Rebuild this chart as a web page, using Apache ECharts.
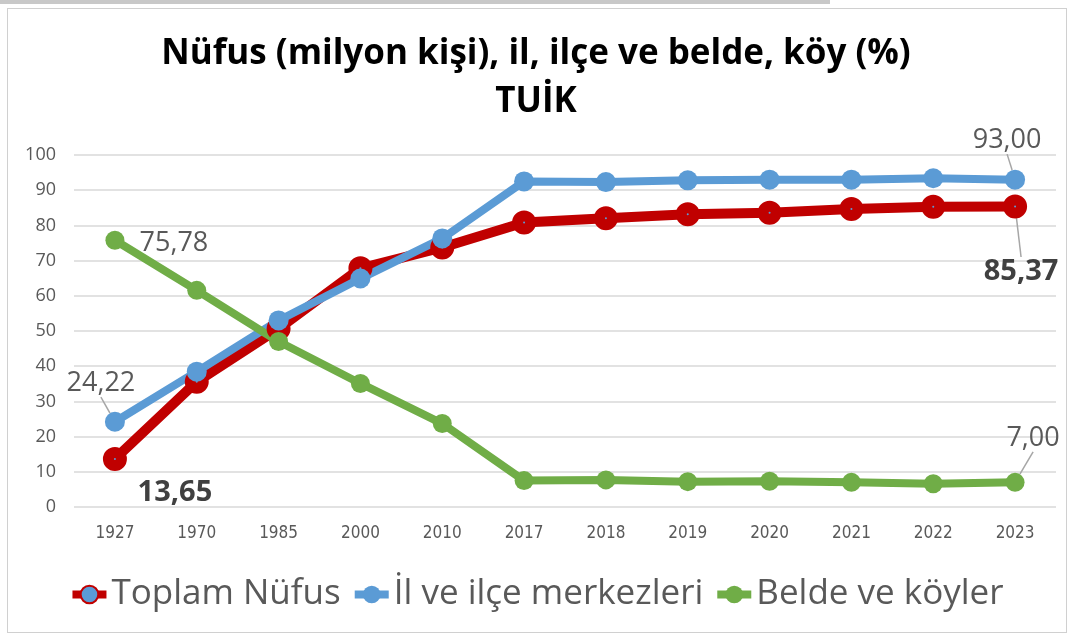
<!DOCTYPE html>
<html>
<head>
<meta charset="utf-8">
<script src="https://cdn.jsdelivr.net/npm/echarts@6/dist/echarts.min.js"></script>
<style>
    html, body { margin: 0; padding: 0; background: #fff; }
    #wrap { position: relative; width: 1072px; height: 637px; overflow: hidden; }
    #topbar { position: absolute; left: 0; top: 0; width: 830px; height: 4px; background: #c8c8c8; }
    #frame { position: absolute; left: 7px; top: 8px; width: 1058px; height: 623px; border: 1px solid #d0d0d0; }
    #chart { position: absolute; left: 0; top: 0; width: 1072px; height: 637px; }
</style>
</head>
<body>
<div id="wrap">
    <div id="topbar"></div>
    <div id="frame"></div>
    <div id="chart"></div>
</div>
<script>
const years = ['1927', '1970', '1985', '2000', '2010', '2017', '2018', '2019', '2020', '2021', '2022', '2023'];
const toplamNufus = [13.65, 35.6, 50.66, 67.8, 73.72, 80.81, 82.0, 83.15, 83.6, 84.68, 85.28, 85.37];
const ilIlce = [24.22, 38.45, 53.0, 64.9, 76.3, 92.5, 92.3, 92.8, 93.0, 93.0, 93.4, 93.0];
const beldeKoy = [75.78, 61.55, 47.0, 35.1, 23.7, 7.5, 7.7, 7.2, 7.3, 7.0, 6.6, 7.0];
const yTicks = [0, 10, 20, 30, 40, 50, 60, 70, 80, 90, 100];

const C_RED = '#c00000';
const C_BLUE = '#5b9bd5';
const C_GREEN = '#70ad47';
const C_TEXT = '#595959';
const C_LEAD = '#a6a6a6';

const fmt = v => v.toFixed(2).replace('.', ',');

// label offsets from the point (label centre), per series / data index
const LABEL_SHIFT = {
    0: { 0: { dx: 60, dy: 34, line: false, bold: true }, 11: { dx: 6, dy: 65, line: true, bold: true } },
    1: { 0: { dx: -14, dy: -38, line: true }, 11: { dx: -8, dy: -39, line: true } },
    2: { 0: { dx: 59, dy: 3, line: false }, 11: { dx: 18, dy: -44, line: true } },
};

function buildData(values, seriesIdx) {
    const shifts = LABEL_SHIFT[seriesIdx];
    return values.map((v, i) => {
        const s = shifts[i];
        if (!s) return v;
        return {
            value: v,
            label: {
                show: true,
                position: 'inside',
                formatter: p => fmt(p.value),
                fontFamily: 'Open Sans',
                fontSize: s.bold ? 29 : 27,
                fontWeight: s.bold ? 'bold' : 'normal',
                color: s.bold ? '#404040' : C_TEXT,
            },
            labelLine: { show: s.line, lineStyle: { color: C_LEAD, width: 1.5 } },
        };
    });
}

function shiftFor(seriesIdx) {
    return p => {
        const s = LABEL_SHIFT[seriesIdx][p.dataIndex];
        return s ? { dx: s.dx, dy: s.dy } : {};
    };
}

const chart = echarts.init(document.getElementById('chart'));
chart.setOption({
    backgroundColor: 'transparent',
    animation: false,
    title: {
        text: 'Nüfus (milyon kişi), il, ilçe ve belde, köy (%)\nTUİK',
        left: 'center',
        top: 25,
        textStyle: { fontFamily: 'Open Sans', fontWeight: 'bold', fontSize: 35, lineHeight: 48, color: '#000' },
    },
    grid: { left: 74, right: 16, top: 155, bottom: 130, containLabel: false },
    legend: {
        bottom: 20,
        left: 'center',
        itemWidth: 34,
        itemHeight: 22,
        itemGap: 10,
        lineStyle: { width: 8 },
        textStyle: { fontFamily: 'Open Sans', fontSize: 35, color: C_TEXT },
        data: ['Toplam Nüfus', 'İl ve ilçe merkezleri', 'Belde ve köyler'],
    },
    xAxis: {
        type: 'category',
        data: years,
        boundaryGap: true,
        axisLine: { show: false },
        axisTick: { show: false },
        axisLabel: { color: C_TEXT, fontFamily: "'DejaVu Sans Condensed', 'Open Sans', sans-serif", fontSize: 17, margin: 18 },
    },
    yAxis: {
        type: 'value',
        min: yTicks[0],
        max: yTicks[yTicks.length - 1],
        interval: 10,
        axisLine: { show: false },
        axisTick: { show: false },
        axisLabel: { color: C_TEXT, fontFamily: 'Open Sans', fontSize: 18, margin: 18 },
        splitLine: { lineStyle: { color: '#d9d9d9', width: 1.5 } },
    },
    series: [
        {
            name: 'Toplam Nüfus',
            type: 'line',
            data: buildData(toplamNufus, 0),
            symbol: 'circle',
            symbolSize: 13,
            lineStyle: { color: C_RED, width: 10 },
            itemStyle: { color: C_BLUE, borderColor: C_RED, borderWidth: 11 },
            labelLayout: shiftFor(0),
        },
        {
            name: 'İl ve ilçe merkezleri',
            type: 'line',
            data: buildData(ilIlce, 1),
            symbol: 'circle',
            symbolSize: 20,
            lineStyle: { color: C_BLUE, width: 8 },
            itemStyle: { color: C_BLUE },
            labelLayout: shiftFor(1),
        },
        {
            name: 'Belde ve köyler',
            type: 'line',
            data: buildData(beldeKoy, 2),
            symbol: 'circle',
            symbolSize: 19,
            lineStyle: { color: C_GREEN, width: 8 },
            itemStyle: { color: C_GREEN },
            labelLayout: shiftFor(2),
        },
    ],
});
</script>
</body>
</html>
